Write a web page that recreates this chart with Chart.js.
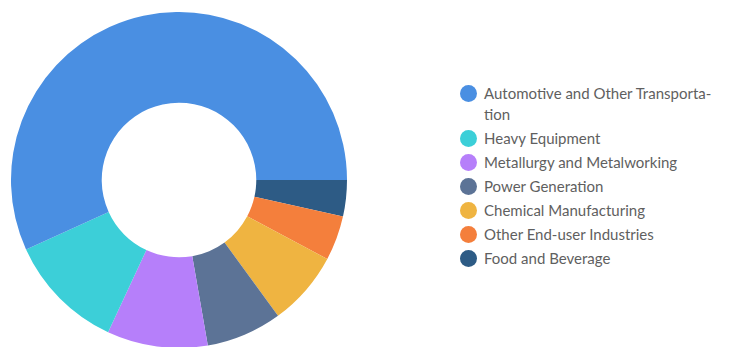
<!DOCTYPE html>
<html lang="en">
<head>
<meta charset="utf-8">
<script src="https://cdn.jsdelivr.net/npm/chart.js@4"></script>
<style>
  html, body { margin: 0; padding: 0; background: #fff; overflow: hidden; }
  body { width: 753px; height: 347px; position: relative; font-family: Lato, "Noto Sans", sans-serif; }
  #chartBox { position: absolute; left: 11px; top: 12px; width: 336px; height: 336px; }
  #legend { position: absolute; left: 459px; top: 83px; width: 260px; margin: 0; padding: 0; list-style: none; }
  #legend li { position: relative; padding-left: 25px; font-size: 15px; line-height: 21px; color: #5f5f5f; margin-bottom: 3px; hyphens: manual; }
  #legend li span.dot { position: absolute; left: 1px; top: 2px; width: 17px; height: 17px; border-radius: 50%; }
</style>
</head>
<body>
<div id="chartBox"><canvas id="endUserChart"></canvas></div>
<ul id="legend"></ul>
<script>
// End-user industry shares (%), listed in legend order
const categories = [
    'Automotive and Other Transporta\u00ADtion',
    'Heavy Equipment',
    'Metallurgy and Metalworking',
    'Power Generation',
    'Chemical Manufacturing',
    'Other End-user Industries',
    'Food and Beverage'
];
const shares = [56.9, 11.3, 9.7, 7.3, 7.2, 4.3, 3.5];
const colors = ['#4a8fe2', '#3ccfd8', '#b67ffa', '#5c7396', '#efb441', '#f47f3c', '#2d5b85'];

// slices run clockwise from 3 o'clock starting with the last category
const drawLabels = categories.slice().reverse();
const drawShares = shares.slice().reverse();
const drawColors = colors.slice().reverse();

function buildLegend() {
    const ul = document.getElementById('legend');
    let html = '';
    categories.forEach((name, i) => {
        html += `<li><span class="dot" style="background:${colors[i]}"></span>${name}</li>`;
    });
    ul.innerHTML = html;
}

function buildChart() {
    const ctx = document.getElementById('endUserChart');
    new Chart(ctx, {
        type: 'doughnut',
        data: {
            labels: drawLabels,
            datasets: [{
                data: drawShares,
                backgroundColor: drawColors,
                borderWidth: 0
            }]
        },
        options: {
            responsive: true,
            maintainAspectRatio: false,
            animation: false,
            rotation: 90,
            cutout: '46%',
            layout: { padding: 0 },
            plugins: {
                legend: { display: false },
                tooltip: { enabled: false }
            }
        }
    });
}

buildLegend();
buildChart();
</script>
</body>
</html>
